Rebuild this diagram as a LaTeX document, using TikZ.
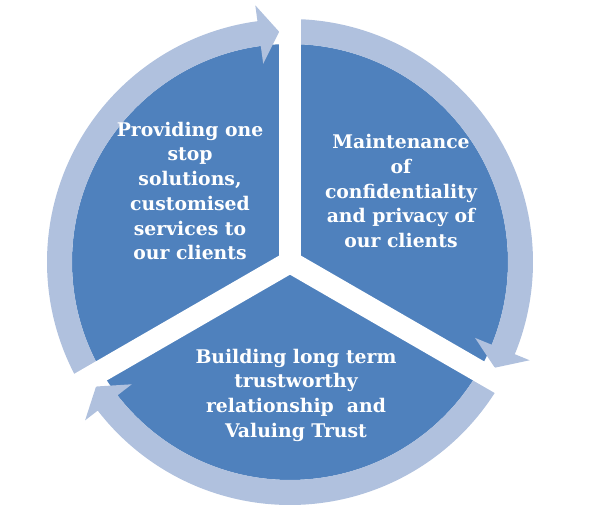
\documentclass[tikz,border=0pt]{standalone}
\usepackage{fontspec}
\setmainfont{DejaVu Serif}
\usetikzlibrary{calc}
\definecolor{piecol}{HTML}{4F81BD}
\definecolor{ringcol}{RGB}{176,193,222}
\tikzset{
  sector/.style={fill=piecol},
  ringarrow/.style={fill=ringcol},
  gapband/.style={draw=white, line width=22pt, line cap=butt},
  lbl/.style={text=white, align=center, font=\bfseries\fontsize{18.8}{24.7}\selectfont, inner sep=0pt}
}
\begin{document}
\begin{tikzpicture}[x=1pt,y=1pt]
\useasboundingbox (0,0) rectangle (595,517);
\coordinate (C) at (290,255);
\begin{scope}[shift={(C)}]
  % pie
  \fill[sector] (0,0) circle[radius=218pt];
  % ring arrow A (left, up to top)
  \fill[ringarrow] (210:243) arc[start angle=210, end angle=97.7, radius=243pt]
    -- (97.7:259) -- (92.7:230.5) -- (97.7:200) -- (97.7:218)
    arc[start angle=97.7, end angle=210, radius=218pt] -- cycle;
  % ring arrow B (right, top down to lower right)
  \fill[ringarrow] (90:243) arc[start angle=90, end angle=-22.3, radius=243pt]
    -- (-22.3:259) -- (-27.3:230.5) -- (-22.3:200) -- (-22.3:218)
    arc[start angle=-22.3, end angle=90, radius=218pt] -- cycle;
  % ring arrow C (bottom, lower right to lower left)
  \fill[ringarrow] (-30:243) arc[start angle=-30, end angle=-142.3, radius=243pt]
    -- (-142.3:259) -- (-147.3:230.5) -- (-142.3:200) -- (-142.3:218)
    arc[start angle=-142.3, end angle=-30, radius=218pt] -- cycle;
  % gaps
  \draw[gapband] (0,0) -- (90:265);
  \draw[gapband] (0,0) -- (210:265);
  \draw[gapband] (0,0) -- (330:265);
\end{scope}
\node[lbl] (t1) at (190,326) {Providing one\\stop\\solutions,\\customised\\services to\\our clients};
\node[lbl] (t2) at (401,326) {Maintenance\\of\\confidentiality\\and privacy of\\our clients};
\node[lbl] (t3) at (296,122) {Building long term\\trustworthy\\relationship~ and\\Valuing Trust};
\end{tikzpicture}
\end{document}
